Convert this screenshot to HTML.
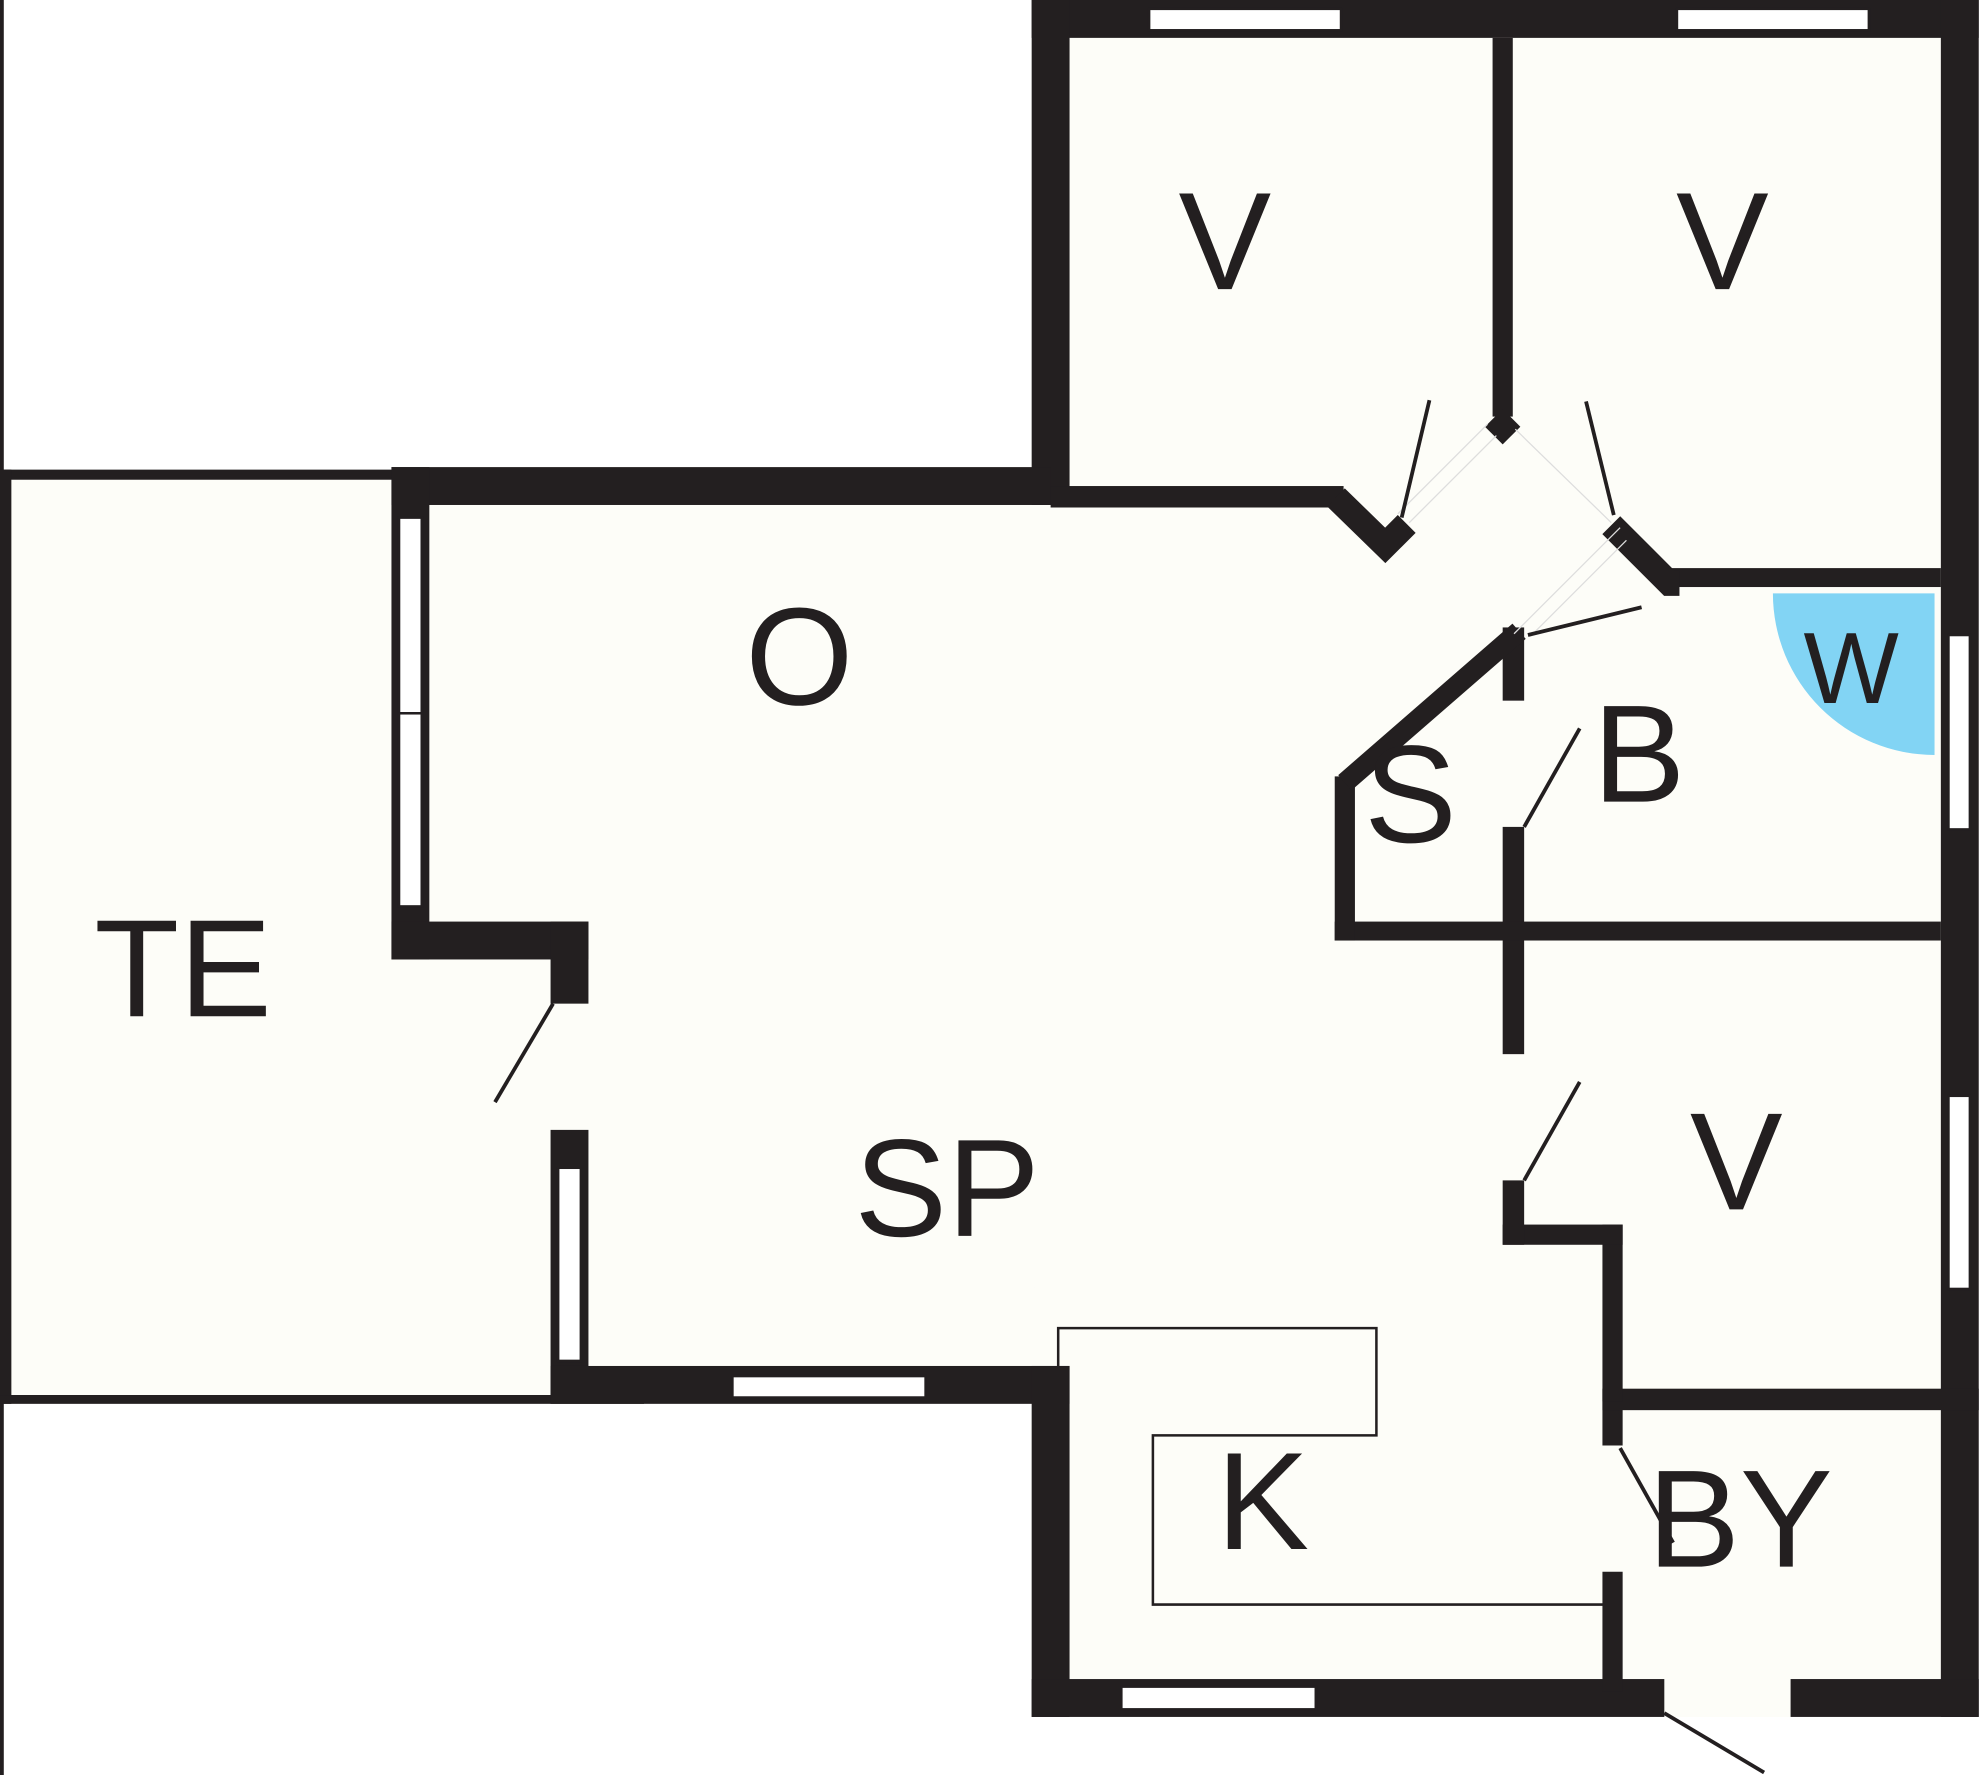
<!DOCTYPE html>
<html><head><meta charset="utf-8"><style>html,body{margin:0;padding:0;background:#fff}svg{display:block}</style></head>
<body>
<svg width="1980" height="1775" viewBox="0 0 1568 1406" preserveAspectRatio="none" xmlns="http://www.w3.org/2000/svg">
<g fill="#fdfdf8">
<rect x="0" y="372" width="320" height="740"/>
<rect x="817" y="0" width="750" height="1360"/>
<rect x="310" y="370" width="540" height="742"/>
<polygon points="817,400 1060,400 1100,430 1200,330 1290,420 1330,460 1540,460 1540,1100 1280,1100 1280,1340 820,1340"/>
</g>
<path d="M1404,470 L1532,470 L1532,598 A128,128 0 0 1 1404,470 Z" fill="#82d4f4"/>
<g fill="#231f20">
<rect x="0" y="0" width="3" height="1406"/>
<rect x="0" y="372" width="320" height="8"/>
<rect x="0" y="372" width="9" height="740"/>
<rect x="0" y="1105" width="510" height="7"/>
<rect x="817" y="0" width="750" height="30"/>
<rect x="817" y="0" width="30" height="400"/>
<rect x="1537" y="0" width="30" height="1360"/>
<rect x="1182" y="30" width="16" height="300"/>
<rect x="310" y="370" width="522" height="30"/>
<rect x="832" y="385" width="232" height="17"/>
<rect x="310" y="370" width="30" height="390"/>
<rect x="310" y="730" width="156" height="30"/>
<rect x="436" y="730" width="30" height="65"/>
<rect x="436" y="895" width="30" height="215"/>
<rect x="436" y="1082" width="411" height="30"/>
<rect x="817" y="1082" width="30" height="278"/>
<rect x="817" y="1330" width="501" height="30"/>
<rect x="1418" y="1330" width="149" height="30"/>
<rect x="1269" y="1100" width="16" height="45"/>
<rect x="1269" y="1245" width="16" height="95"/>
<rect x="1269" y="1100" width="298" height="17"/>
<rect x="1269" y="970" width="16" height="140"/>
<rect x="1190" y="970" width="95" height="16"/>
<rect x="1190" y="935" width="17" height="51"/>
<rect x="1190" y="655" width="17" height="180"/>
<rect x="1057" y="730" width="480" height="15"/>
<rect x="1190" y="497" width="17" height="58"/>
<rect x="1322" y="450" width="215" height="15"/>
<rect x="1057" y="615" width="16" height="130"/>
<polygon points="1190,324 1204,338 1190,352 1176,338"/>
</g>
<g stroke="#231f20" fill="none">
<polyline points="1058,394 1097,432 1114,415" stroke-width="20" stroke-linejoin="miter"/>
<polyline points="1276,416 1322,462 1330,462" stroke-width="20" stroke-linejoin="miter"/>
<line x1="1065" y1="620" x2="1203" y2="500" stroke-width="16"/>
<g stroke="#ddd" stroke-width="1">
<line x1="1178" y1="336" x2="1107" y2="407"/>
<line x1="1185" y1="345" x2="1116" y2="414"/>
<line x1="1200" y1="340" x2="1276" y2="414"/>
<line x1="1283" y1="418" x2="1199" y2="502"/>
<line x1="1288" y1="428" x2="1212" y2="504"/>
</g>
<g stroke-width="3">
<line x1="1110" y1="410" x2="1132" y2="317"/>
<line x1="1278" y1="408" x2="1256" y2="318"/>
<line x1="1210" y1="503" x2="1300" y2="481"/>
<line x1="1207" y1="655" x2="1251" y2="577"/>
<line x1="1207" y1="935" x2="1251" y2="857"/>
<line x1="438" y1="795" x2="392" y2="873"/>
<line x1="1283" y1="1147" x2="1325" y2="1222"/>
<line x1="1318" y1="1357" x2="1397" y2="1404"/>
</g>
<polyline points="838,1082 838,1052 1090,1052 1090,1137 913,1137 913,1271 1270,1271" stroke-width="2"/>
</g>
<g fill="#fff" stroke="#231f20" stroke-width="2">
<rect x="910" y="7" width="152" height="17"/>
<rect x="1328" y="7" width="152" height="17"/>
<rect x="316" y="410" width="18" height="155"/>
<rect x="316" y="565" width="18" height="153"/>
<rect x="442" y="925" width="18" height="153"/>
<rect x="580" y="1090" width="153" height="17"/>
<rect x="888" y="1336" width="154" height="18"/>
<rect x="1543" y="503" width="17" height="154"/>
<rect x="1543" y="868" width="17" height="153"/>
</g>
<g font-family="Liberation Sans, sans-serif" font-size="110" fill="#231f20" text-anchor="middle">
<text x="970" y="229">V</text>
<text x="1364" y="229">V</text>
<text x="633" y="558">O</text>
<text x="145" y="805">TE</text>
<text x="750" y="979">SP</text>
<text x="1117" y="667">S</text>
<text x="1298" y="635">B</text>
<text x="1375" y="958">V</text>
<text x="1000" y="1227">K</text>
<text x="1378" y="1241">BY</text>
<text x="1466" y="557" font-size="80">W</text>
</g>
</svg>
</body></html>
